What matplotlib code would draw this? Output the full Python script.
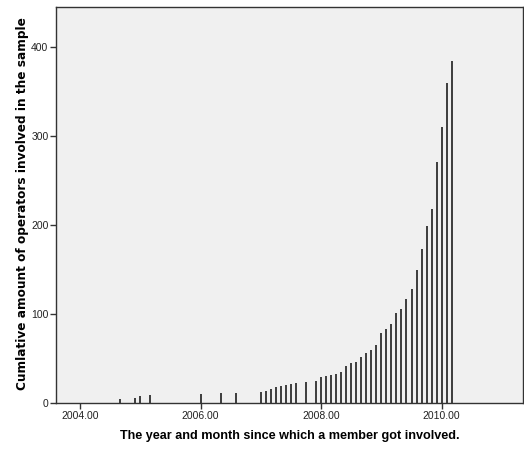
"""Cumulative number of involved operators by month."""

import matplotlib

matplotlib.use("Agg")
import matplotlib.pyplot as plt
import numpy as np

years = [2004, 2004, 2005, 2005, 2006, 2006, 2006] + [2007] * 10 + [2008] * 12 + [2009] * 12 + [2010] * 3
months = (
    [9, 12, 1, 3, 1, 5, 8]
    + [1, 2, 3, 4, 5, 6, 7, 8, 10, 12]
    + list(range(1, 13))
    + list(range(1, 13))
    + [1, 2, 3]
)
cumulative = [
    5, 6, 8, 9, 10, 11, 12,
    13, 14, 16, 18, 19, 21, 22, 23, 24, 25,
    29, 31, 32, 33, 35, 42, 45, 46, 52, 56, 60, 65,
    79, 83, 89, 101, 106, 117, 128, 150, 173, 199, 218, 271,
    310, 360, 385,
]
tick_values = [2004, 2006, 2008, 2010]
tick_labels = ["2004.00", "2006.00", "2008.00", "2010.00"]

x = np.array(years) + (np.array(months) - 1) / 12.0

plt.rcParams["font.family"] = ["Liberation Sans", "DejaVu Sans"]

fig = plt.figure(figsize=(5.24, 4.49), dpi=100)
ax = fig.add_axes([0.107, 0.102, 0.891, 0.882])
ax.set_facecolor("#f0f0f0")

ax.vlines(x, 0, cumulative, color="#1e1e1e", linewidth=1.2)

ax.set_xlim(2003.6, 2011.35)
ax.set_ylim(0, 445)
ax.set_xticks(tick_values)
ax.set_xticklabels(tick_labels)
ax.set_yticks([0, 100, 200, 300, 400])

ax.tick_params(direction="out", length=4, width=1, color="#333333",
               labelsize=7.5, labelcolor="#222222", pad=1.5)
for spine in ax.spines.values():
    spine.set_color("#333333")
    spine.set_linewidth(1)

ax.set_xlabel("The year and month since which a member got involved.",
              fontsize=9.1, fontweight="bold")
ax.xaxis.set_label_coords(0.5, -0.068)
ax.set_ylabel("Cumlative amount of operators involved in the sample",
              fontsize=8.7, fontweight="bold", family=["DejaVu Sans"])
ax.yaxis.set_label_coords(-0.058, 0.505)

fig.savefig("out.png", dpi=100)
